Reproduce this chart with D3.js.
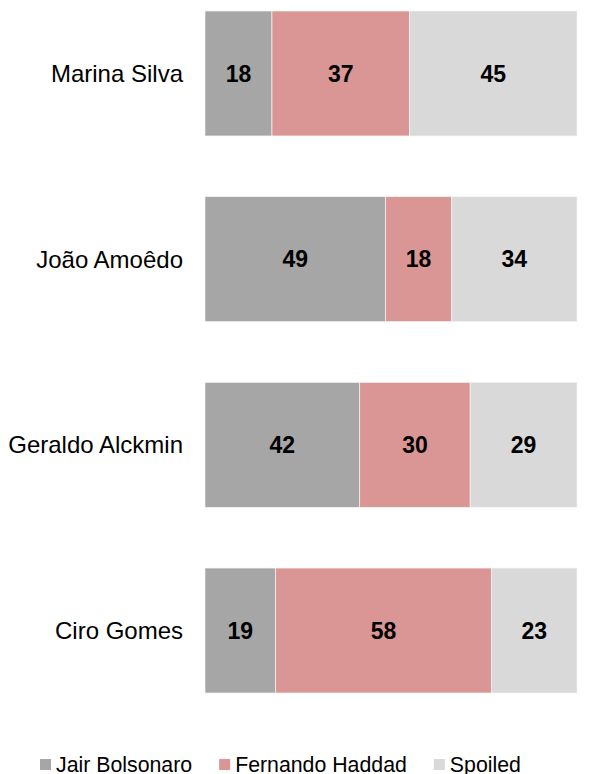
<!DOCTYPE html>
<html>
<head>
<meta charset="utf-8">
<script src="https://cdn.jsdelivr.net/npm/d3@7"></script>
<style>
  body { margin: 0; background: #fff; }
  svg { display: block; font-family: "Liberation Sans", Arial, sans-serif; }
</style>
</head>
<body>
<div id="chart"></div>
<script>
const candidates = ['Marina Silva', 'João Amoêdo', 'Geraldo Alckmin', 'Ciro Gomes'];
const series_names = ['Jair Bolsonaro', 'Fernando Haddad', 'Spoiled'];
const bolsonaro = [18, 49, 42, 19];
const haddad = [37, 18, 30, 58];
const spoiled = [45, 34, 29, 23];

const colors = ['#a6a6a6', '#da9694', '#d9d9d9'];

const chart_width = 589;
const chart_height = 774;

const rows = candidates.map((c, i) => ({
    name: c,
    'Jair Bolsonaro': bolsonaro[i],
    'Fernando Haddad': haddad[i],
    'Spoiled': spoiled[i]
}));

const stack = d3.stack()
    .keys(series_names)
    .offset(d3.stackOffsetExpand);
const stacked = stack(rows);

const svg = d3.select('#chart')
    .append('svg')
    .attr('width', chart_width)
    .attr('height', chart_height);

// Scales
const x_scale = d3.scaleLinear()
    .domain([0, 1])
    .range([205, 577]);

const y_scale = d3.scaleBand()
    .domain(candidates)
    .range([11, 693])
    .paddingInner(0.327)
    .paddingOuter(0);

const color = d3.scaleOrdinal()
    .domain(series_names)
    .range(colors);

// Bars
const layers = svg.append('g')
    .selectAll('g')
    .data(stacked)
    .enter()
    .append('g')
    .attr('fill', d => color(d.key));

layers.selectAll('rect')
    .data(d => d)
    .enter()
    .append('rect')
    .attr('x', d => x_scale(d[0]))
    .attr('y', d => y_scale(d.data.name))
    .attr('width', d => x_scale(d[1]) - x_scale(d[0]))
    .attr('height', y_scale.bandwidth())
    .attr('stroke', '#f4f4f4')
    .attr('stroke-width', 0.7);

// Value labels
layers.selectAll('text')
    .data(d => d.map(p => ({ p: p, v: p.data[d.key] })))
    .enter()
    .append('text')
    .attr('x', d => x_scale((d.p[0] + d.p[1]) / 2))
    .attr('y', d => y_scale(d.p.data.name) + y_scale.bandwidth() / 2 + 8.3)
    .attr('text-anchor', 'middle')
    .attr('font-size', 23)
    .attr('font-weight', 'bold')
    .attr('fill', '#000')
    .text(d => d.v);

// Category labels
svg.append('g')
    .selectAll('text')
    .data(candidates)
    .enter()
    .append('text')
    .attr('x', 183)
    .attr('y', d => y_scale(d) + y_scale.bandwidth() / 2 + 8.5)
    .attr('text-anchor', 'end')
    .attr('font-size', 24)
    .attr('fill', '#000')
    .text(d => d);

// Legend
const legend = svg.append('g')
    .attr('transform', 'translate(40, 772)');

let lx = 0;
series_names.forEach(name => {
    const item = legend.append('g')
        .attr('transform', `translate(${lx}, 0)`);
    item.append('rect')
        .attr('x', 0)
        .attr('y', -13)
        .attr('width', 11)
        .attr('height', 11)
        .attr('fill', color(name));
    const t = item.append('text')
        .attr('x', 16)
        .attr('y', 0)
        .attr('font-size', 21.3)
        .attr('fill', '#000')
        .text(name);
    lx += 16 + t.node().getComputedTextLength() + 27;
});
</script>
</body>
</html>
